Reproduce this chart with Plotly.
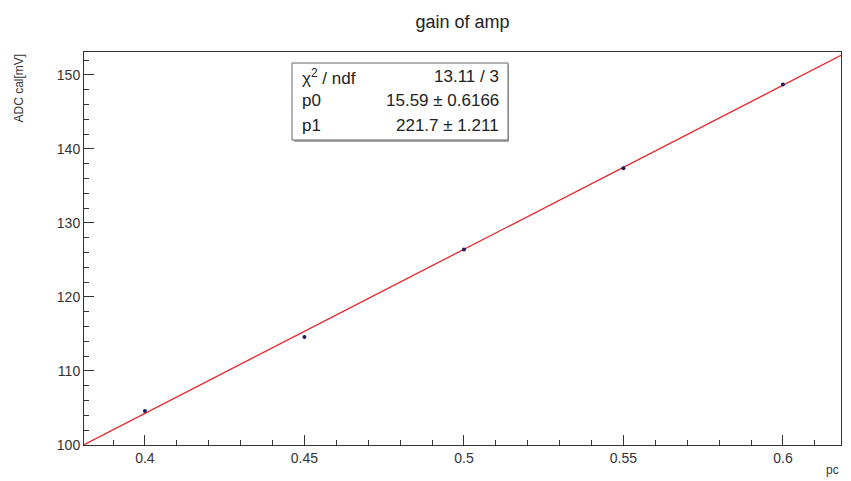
import numpy as np
import plotly.graph_objects as go

# data
x_pc = [0.40, 0.45, 0.50, 0.55, 0.60]
adc_mv = [104.6, 114.6, 126.4, 137.4, 148.7]
fit_p0 = 15.59
fit_p1 = 221.7
stats_labels = ["χ<sup>2</sup> / ndf", "p0", "p1"]
stats_values = ["13.11 / 3", "15.59 ± 0.6166", "221.7 ± 1.211"]
title_text = "gain of amp"
x_title = "pc"
y_title = "ADC cal[mV]"

W, H = 851, 481
L, R, T, B = 84, 10, 52, 36
PW, PH = W - L - R, H - T - B
xr = [0.3809, 0.6182]
yr = [100.0, 153.1]

xf = np.linspace(xr[0], xr[1], 50)
yf = fit_p0 + fit_p1 * xf

fig = go.Figure()
fig.add_trace(go.Scatter(x=xf, y=yf, mode="lines",
                         line=dict(color="#e8262a", width=1.3), hoverinfo="skip"))
fig.add_trace(go.Scatter(x=x_pc, y=adc_mv, mode="markers",
                         marker=dict(color="#1c1c5c", size=4)))

font = "Liberation Sans, Arial, sans-serif"

def px_x(p):
    return (p - L) / PW

def px_y(p):
    return (H - B - p) / PH

fig.update_layout(
    width=W, height=H, showlegend=False,
    margin=dict(l=L, r=R, t=T, b=B),
    paper_bgcolor="white", plot_bgcolor="white",
    font=dict(family=font, color="#222"),
    title=dict(text=title_text, x=0.5, xanchor="center", xref="paper",
               y=1 - 22 / H, yanchor="middle", font=dict(size=18, color="#222")),
    xaxis=dict(range=xr, showgrid=False, zeroline=False, showline=True, linecolor="#333",
               linewidth=1, mirror=True, ticks="inside", ticklen=10, tickcolor="#333",
               tickvals=[0.4, 0.45, 0.5, 0.55, 0.6], ticktext=["0.4", "0.45", "0.5", "0.55", "0.6"],
               tickfont=dict(size=14, color="#333"),
               minor=dict(dtick=0.01, tick0=0.4, ticks="inside", ticklen=5, tickcolor="#333")),
    yaxis=dict(range=yr, showgrid=False, zeroline=False, showline=True, linecolor="#333",
               linewidth=1, mirror=True, ticks="inside", ticklen=10, tickcolor="#333",
               dtick=10, tick0=100, tickfont=dict(size=14, color="#333"),
               minor=dict(dtick=2, tick0=100, ticks="inside", ticklen=5, tickcolor="#333")),
)

# stats box
bx0, bx1, by0, by1 = 292, 508, 63, 140
fig.add_shape(type="rect", xref="paper", yref="paper",
              x0=px_x(bx0 + 2), x1=px_x(bx1 + 1), y0=px_y(by1 + 2), y1=px_y(by0 + 2),
              line=dict(width=0), fillcolor="#aaa")
fig.add_shape(type="rect", xref="paper", yref="paper",
              x0=px_x(bx0), x1=px_x(bx1), y0=px_y(by1), y1=px_y(by0),
              line=dict(color="#666", width=1), fillcolor="white")
rows_y = [77, 101, 125]
for lab, val, ry in zip(stats_labels, stats_values, rows_y):
    fig.add_annotation(xref="paper", yref="paper", x=px_x(300), y=px_y(ry),
                       text=lab, showarrow=False, xanchor="left", yanchor="middle",
                       font=dict(size=17, color="#222"))
    fig.add_annotation(xref="paper", yref="paper", x=px_x(501), y=px_y(ry),
                       text=val, showarrow=False, xanchor="right", yanchor="middle",
                       font=dict(size=17, color="#222"))

fig.add_annotation(xref="paper", yref="paper", x=px_x(18), y=1.0,
                   text=y_title, textangle=-90, showarrow=False,
                   xanchor="center", yanchor="top", font=dict(size=12, color="#333"))
fig.add_annotation(xref="paper", yref="paper", x=px_x(841), y=px_y(470),
                   text=x_title, showarrow=False,
                   xanchor="right", yanchor="middle", font=dict(size=12, color="#333"))

fig.write_html("out.html")
